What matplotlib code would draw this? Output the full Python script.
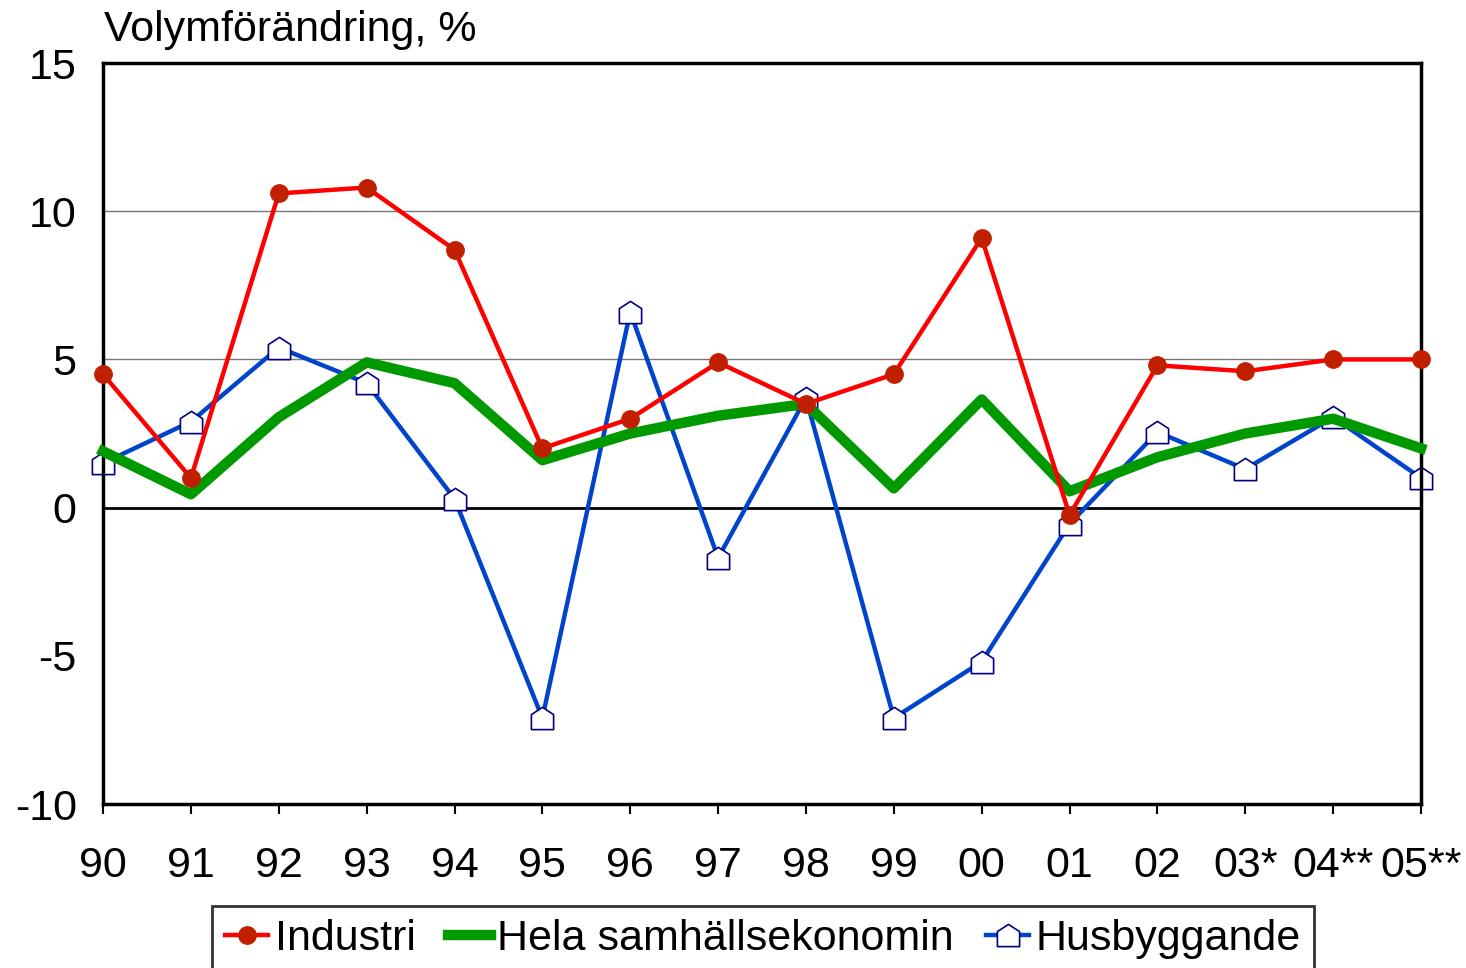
import matplotlib.pyplot as plt
from matplotlib.path import Path

plt.rcParams['font.family'] = ['Liberation Sans', 'DejaVu Sans']

# ── Data ────────────────────────────────────────────────────────────────
years = ["90", "91", "92", "93", "94", "95", "96", "97", "98", "99",
         "00", "01", "02", "03*", "04**", "05**"]
industri = [4.5, 1.0, 10.6, 10.8, 8.7, 2.0, 3.0, 4.9, 3.5, 4.5,
            9.1, -0.25, 4.8, 4.6, 5.0, 5.0]
hela = [1.9, 0.45, 3.05, 4.9, 4.2, 1.6, 2.5, 3.1, 3.5, 0.65,
        3.65, 0.55, 1.7, 2.5, 3.0, 2.0]
husbygg = [1.5, 2.9, 5.4, 4.2, 0.3, -7.1, 6.6, -1.7, 3.7, -7.1,
           -5.2, -0.55, 2.55, 1.3, 3.05, 1.0]

# house shaped marker
house = Path([(-1, -1), (1, -1), (1, 0.35), (0, 1), (-1, 0.35), (-1, -1)],
             [Path.MOVETO, Path.LINETO, Path.LINETO, Path.LINETO,
              Path.LINETO, Path.CLOSEPOLY])

fig = plt.figure(figsize=(14.66, 9.68), dpi=100)
ax = fig.add_axes([0.0703, 0.1694, 0.899, 0.7655])

x = list(range(len(years)))

ax.axhline(0, color="black", lw=2, zorder=1)
for yv in (5, 10):
    ax.axhline(yv, color="#777777", lw=1, zorder=0.5)

ax.plot(x, husbygg, color="#0044CC", lw=3.2, marker=house, markersize=16,
        markerfacecolor="white", markeredgecolor="#000080",
        markeredgewidth=1.2, zorder=2, clip_on=False, label="Husbyggande")
ax.plot(x, hela, color="#009900", lw=7.5, zorder=3, clip_on=False,
        label="Hela samhällsekonomin")
ax.plot(x, industri, color="#FF0000", lw=3.2, marker="o", markersize=12.5,
        markerfacecolor="#C02000", markeredgecolor="#C02000", zorder=4,
        clip_on=False, label="Industri")

ax.set_xlim(0, len(years) - 1)
ax.set_ylim(-10, 15)
ax.set_yticks([-10, -5, 0, 5, 10, 15])
ax.set_yticklabels(["-10", "-5", "0", "5", "10", "15"])
ax.set_xticks(x)
ax.set_xticklabels(years)
ax.tick_params(axis="y", length=0, labelsize=31, pad=19)
ax.tick_params(axis="x", length=7, width=1.5, direction="out",
               labelsize=31, pad=23)
for s in ax.spines.values():
    s.set_linewidth(2.5)

fig.text(0.071, 0.969, "Volymförändring, %", fontsize=31, ha="left",
         va="center")

handles, labels = ax.get_legend_handles_labels()
order = [2, 1, 0]
leg = fig.legend([handles[i] for i in order], [labels[i] for i in order],
                 loc="center", bbox_to_anchor=(0.5205, 0.03), ncol=3,
                 fontsize=31, frameon=True, fancybox=False, edgecolor="black",
                 handlelength=1.0, handletextpad=0.15, columnspacing=0.75,
                 borderpad=0.3)
leg.get_frame().set_linewidth(2)

fig.savefig("out.png", dpi=100)
